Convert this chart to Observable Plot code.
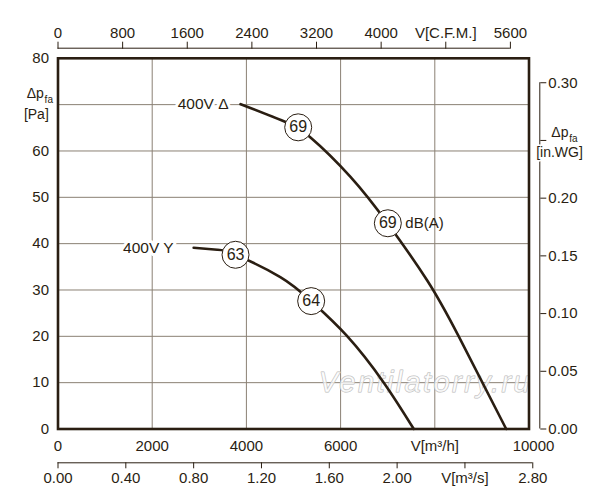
<!DOCTYPE html>
<html><head><meta charset="utf-8">
<script src="https://cdn.jsdelivr.net/npm/d3@7"></script>
<script src="https://cdn.jsdelivr.net/npm/@observablehq/plot@0.6"></script>
<style>
html,body{margin:0;padding:0;background:#fff}
#chart{width:600px;height:500px}
</style>
</head><body><div id="chart"></div>
<script>
// ---- data ----
const flowTicks = [0, 2000, 4000, 6000, 8000, 10000];
const flowTickLabels = ["0", "2000", "4000", "6000", "V[m³/h]", "10000"];
const pressureTicks = [0, 10, 20, 30, 40, 50, 60, 70, 80];
const pressureTickLabels = ["0", "10", "20", "30", "40", "50", "60", "", "80"];
const cfmTicks = [0, 800, 1600, 2400, 3200, 4000, 4800, 5600];
const cfmTickLabels = ["0", "800", "1600", "2400", "3200", "4000", "V[C.F.M.]", "5600"];
const m3sTicks = [0, 0.4, 0.8, 1.2, 1.6, 2.0, 2.4, 2.8];
const m3sTickLabels = ["0.00", "0.40", "0.80", "1.20", "1.60", "2.00", "V[m³/s]", "2.80"];
const inwgTicks = [0, 0.05, 0.10, 0.15, 0.20, 0.25, 0.30];
const inwgTickLabels = ["0.00", "0.05", "0.10", "0.15", "0.20", "", "0.30"];

const deltaFlow     = [3875, 4795, 5361, 6210, 7003, 7836, 8497, 9516];
const deltaPressure = [70.1, 66.4, 62.9, 54.4, 44.3, 32.1, 20.2, 0];
const starFlow      = [2880, 3380, 3770, 4720, 5375, 6125, 6917, 7554];
const starPressure  = [39.1, 38.7, 37.6, 32.8, 27.6, 20.2, 10.0, 0];
const curveNames = ["400V Δ", "400V Y"];

const badgeFlow     = [5100, 7003, 3769, 5375];
const badgePressure = [65.1, 44.4, 37.6, 27.6];
const badgeLevel    = ["69", "69", "63", "64"];
const badgeUnit = "dB(A)";
const watermark = "Ventilatorry.ru";

// unit conversions (secondary axes)
const M3H_PER_CFM = 1.7152;   // as drawn on the chart's top axis
const M3H_PER_M3S = 3600;
const PA_PER_INWG = 249.089;

// ---- style ----
const dark = "#2a1e12";
const gridColor = "#8a8074";
const FS = 15;

const labelMap = (ticks, labels, k) => {
  const m = new Map(ticks.map((t, i) => [t * k, labels[i]]));
  return d => m.get(d) ?? "";
};

const cfmPos = cfmTicks.map(v => v * M3H_PER_CFM);
const m3sPos = m3sTicks.map(v => v * M3H_PER_M3S);
const inwgPos = inwgTicks.map(v => v * PA_PER_INWG);

const plot = Plot.plot({
  width: 600,
  height: 500,
  marginLeft: 57.5,
  marginRight: 71.5,
  marginTop: 57.8,
  marginBottom: 71.5,
  x: {domain: [0, 10000]},
  y: {domain: [0, 80]},
  style: {fontFamily: "'Liberation Sans', Arial, sans-serif", fontSize: "15px", color: dark, background: "white"},
  marks: [
    // grid
    Plot.ruleX(flowTicks.filter(d => d > 0 && d < 10000), {stroke: gridColor, strokeWidth: 1}),
    Plot.ruleY(pressureTicks.filter(d => d > 0 && d < 80), {stroke: gridColor, strokeWidth: 1}),

    // watermark
    Plot.text([watermark], {
      frameAnchor: "bottom-right", textAnchor: "end", lineAnchor: "bottom",
      dx: 3, dy: -36.8, fontSize: 29, fontStyle: "italic",
      fill: "white", fillOpacity: 0.7, stroke: "#b9b9b9", strokeWidth: 1
    }),

    // curves
    Plot.line(deltaFlow, {x: deltaFlow, y: deltaPressure, curve: "natural", stroke: dark, strokeWidth: 2.6}),
    Plot.line(starFlow, {x: starFlow, y: starPressure, curve: "natural", stroke: dark, strokeWidth: 2.6}),

    // curve labels
    Plot.text([curveNames[0]], {x: [deltaFlow[0]], y: [deltaPressure[0]], text: d => d, textAnchor: "end", dx: -12,
      fontSize: 15.5, fill: dark, stroke: "white", strokeWidth: 6}),
    Plot.text([curveNames[1]], {x: [starFlow[0]], y: [starPressure[0]], text: d => d, textAnchor: "end", dx: -20,
      fontSize: 15.5, fill: dark, stroke: "white", strokeWidth: 6}),

    // noise badges
    Plot.dot(badgeFlow, {x: badgeFlow, y: badgePressure, r: 13.5, fill: "white", stroke: dark, strokeWidth: 1}),
    Plot.text(badgeFlow, {x: badgeFlow, y: badgePressure, text: badgeLevel, fontSize: 16, fill: dark}),
    Plot.text([badgeUnit], {x: [badgeFlow[1]], y: [badgePressure[1]], text: d => d, textAnchor: "start", dx: 17.5, fontSize: 15, fill: dark}),

    // left axis (Pa)
    Plot.axisY(pressureTicks, {anchor: "left", tickSize: 0, tickPadding: 9, tickFormat: labelMap(pressureTicks, pressureTickLabels, 1),
      fontSize: FS, color: dark, label: null}),
    Plot.text([70], {y: d => d, frameAnchor: "left", text: ["Δp"], textAnchor: "end", dx: -14.2, dy: -11.4, fontSize: 14, fill: dark}),
    Plot.text([70], {y: d => d, frameAnchor: "left", text: ["fa"], textAnchor: "start", dx: -13.4, dy: -4.4, fontSize: 10, fill: dark}),
    Plot.text([70], {y: d => d, frameAnchor: "left", text: ["[Pa]"], textAnchor: "end", dx: -9.2, dy: 9.6, fontSize: 14, fill: dark}),

    // bottom axis (m3/h)
    Plot.axisX(flowTicks.slice(0, -1), {anchor: "bottom", tickSize: 0, tickPadding: 11, tickFormat: labelMap(flowTicks, flowTickLabels, 1),
      fontSize: FS, color: dark, label: null}),
    Plot.axisX(flowTicks.slice(-1), {anchor: "bottom", tickSize: 0, tickPadding: 11, dx: 4.5, tickFormat: labelMap(flowTicks, flowTickLabels, 1),
      fontSize: FS, color: dark, label: null}),

    // second bottom axis (m3/s)
    Plot.ruleY([0], {x1: 0, x2: m3sPos[m3sPos.length - 1], dy: 33.8, stroke: dark, strokeWidth: 1}),
    Plot.axisX(m3sPos, {anchor: "bottom", dy: 33.8, tickSize: 6, tickPadding: 4, tickFormat: labelMap(m3sTicks, m3sTickLabels, M3H_PER_M3S),
      fontSize: FS, color: dark, label: null}),

    // top axis (CFM)
    Plot.ruleY([80], {x1: 0, x2: cfmPos[cfmPos.length - 1], dy: -10.1, stroke: dark, strokeWidth: 1}),
    Plot.axisX(cfmPos, {anchor: "top", dy: -10.1, tickSize: 7, tickPadding: 3, tickFormat: labelMap(cfmTicks, cfmTickLabels, M3H_PER_CFM),
      fontSize: FS, color: dark, label: null}),

    // right axis (in.WG)
    Plot.ruleX([10000], {y1: 0, y2: inwgPos[inwgPos.length - 1], dx: 10.8, stroke: dark, strokeWidth: 1}),
    Plot.axisY(inwgPos, {anchor: "right", dx: 10.8, tickSize: 6, tickPadding: 2.5, tickFormat: labelMap(inwgTicks, inwgTickLabels, PA_PER_INWG),
      fontSize: FS, color: dark, label: null}),
    Plot.text([inwgPos[5]], {y: d => d, frameAnchor: "right", text: ["Δp"], textAnchor: "end", dx: 39.5, dy: -8, fontSize: 14, fill: dark}),
    Plot.text([inwgPos[5]], {y: d => d, frameAnchor: "right", text: ["fa"], textAnchor: "start", dx: 40.3, dy: -1.5, fontSize: 10, fill: dark}),
    Plot.text([inwgPos[5]], {y: d => d, frameAnchor: "right", text: ["[in.WG]"], textAnchor: "middle", dx: 30.5, dy: 12.5, fontSize: 14,
      fill: dark, stroke: "white", strokeWidth: 3}),

    // frame
    Plot.frame({stroke: dark, strokeWidth: 2.6})
  ]
});

d3.select(plot).selectAll("text").filter(function () { return this.textContent === watermark; })
  .attr("letter-spacing", "2.4");

document.getElementById("chart").appendChild(plot);
</script>
</body></html>
